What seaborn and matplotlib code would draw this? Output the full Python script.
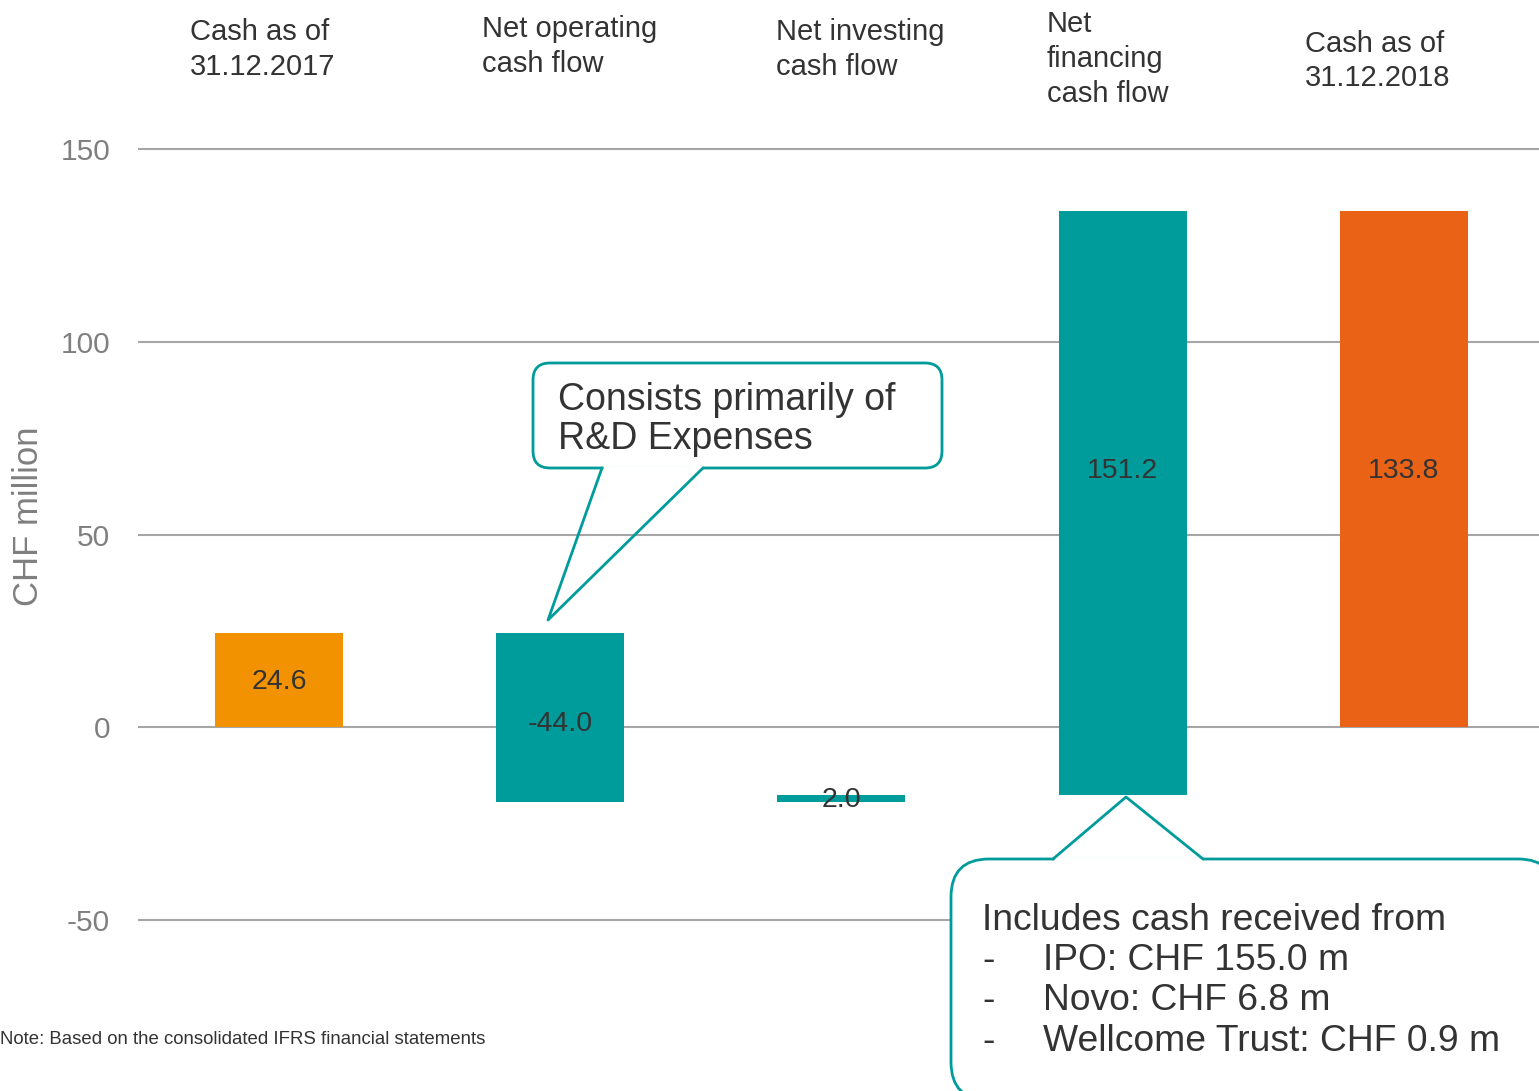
import numpy as np
import pandas as pd
import matplotlib
matplotlib.use("Agg")
import matplotlib.pyplot as plt
import matplotlib.transforms as mtransforms
from matplotlib.patches import FancyBboxPatch
import seaborn as sns

# data
categories = ["Cash 2017", "Operating", "Investing", "Financing", "Cash 2018"]
values = [24.6, -44.0, -2.0, 151.2, 133.8]
bar_bottoms = [0.0, 24.6, -19.4, -17.4, 0.0]
bar_tops = [24.6, -19.4, -17.4, 133.8, 133.8]
value_labels = ["24.6", "-44.0", "2.0", "151.2", "133.8"]
label_y = [11.7, 1.0, -18.9, 66.4, 66.4]
bar_colors = ["#F39200", "#009B9B", "#009B9B", "#009B9B", "#E96216"]
category_lines = [
    ["Cash as of", "31.12.2017"],
    ["Net operating", "cash flow"],
    ["Net investing", "cash flow"],
    ["Net", "financing", "cash flow"],
    ["Cash as of", "31.12.2018"],
]
yticks = [-50, 0, 50, 100, 150]

# layout (pixels, origin top-left)
W, H = 1539, 1091
cat_x = [190, 482, 776, 1047, 1305]
cat_baselines = [[40, 75], [37, 72], [40, 75], [32, 67, 102], [52, 86]]

TEAL = "#009B9B"
DARK = "#333333"
GREY = "#7F7F7F"

sns.set_theme(style="white")
plt.rcParams["font.family"] = ["Liberation Sans", "DejaVu Sans"]

fig = plt.figure(figsize=(W / 100, H / 100), dpi=100)
ax = fig.add_axes([138 / W, 0, 1 - 138 / W, 1])
px = mtransforms.Affine2D().scale(1, -1).translate(0, H)

df = pd.DataFrame({
    "category": categories,
    "height": np.array(bar_tops) - np.array(bar_bottoms),
    "bottom": bar_bottoms,
})
sns.barplot(data=df, x="category", y="height", bottom=df["bottom"].values,
            width=0.455, errorbar=None, linewidth=0, color=TEAL,
            saturation=1, ax=ax)
for patch, c in zip(ax.patches, bar_colors):
    patch.set_facecolor(c)
    patch.set_edgecolor(c)

for i, (txt, y) in enumerate(zip(value_labels, label_y)):
    ax.text(i, y, txt, ha="center", va="center", fontsize=20.5, color=DARK, zorder=3)

ax.set_xlim(-0.501, 4.48)
ax.set_ylim(-94.2, 188.5)
ax.set_xticks([])
ax.set_xlabel("")
ax.set_ylabel("")
ax.set_yticks(yticks)
ax.set_yticklabels([str(v) for v in yticks])
ax.tick_params(axis="y", length=0, pad=20, labelsize=21.5, labelcolor=GREY)
ax.yaxis.grid(True, color="#A6A6A6", linewidth=1.5)
ax.set_axisbelow(True)
sns.despine(ax=ax, left=True, bottom=True)

# category headers
for x, lines, bls in zip(cat_x, category_lines, cat_baselines):
    for line, b in zip(lines, bls):
        ax.text(x, b, line, transform=px, ha="left", va="baseline",
                fontsize=21, color=DARK)

ax.text(29, 516, "CHF million", transform=px, rotation=90, ha="center",
        va="center", fontsize=25, color=GREY)
ax.text(0, 1044, "Note: Based on the consolidated IFRS financial statements",
        transform=px, ha="left", va="baseline", fontsize=13.4, color=DARK)


def callout(box, base, tip, radius):
    x0, y0, x1, y1 = box
    ax.add_patch(FancyBboxPatch((x0, y0), x1 - x0, y1 - y0,
                                boxstyle=f"round,pad=0,rounding_size={radius}",
                                fc="white", ec=TEAL, lw=2, transform=px,
                                zorder=4, clip_on=False))
    bx0, bx1, by = base
    ax.plot([bx0 + 1, bx1 - 1], [by, by], color="white", lw=3.5,
            transform=px, zorder=5, solid_capstyle="butt", clip_on=False)
    ax.plot([bx0, tip[0], bx1], [by, tip[1], by], color=TEAL, lw=2,
            transform=px, zorder=6, clip_on=False)


callout((533, 363, 942, 468), (602, 703, 468), (548, 620), 17)
for line, b in zip(["Consists primarily of", "R&D Expenses"], [410, 449]):
    ax.text(558, b, line, transform=px, ha="left", va="baseline",
            fontsize=27, color=DARK, zorder=7)

callout((951, 859, 1556, 1100), (1053, 1203, 859), (1126, 797), 38)
ax.text(982, 930, "Includes cash received from", transform=px, ha="left",
        va="baseline", fontsize=26.8, color=DARK, zorder=7)
for item, b in zip(["IPO: CHF 155.0 m", "Novo: CHF 6.8 m", "Wellcome Trust: CHF 0.9 m"],
                   [970, 1010, 1051]):
    ax.text(982, b, "-", transform=px, ha="left", va="baseline",
            fontsize=26.8, color=DARK, zorder=7)
    ax.text(1043, b, item, transform=px, ha="left", va="baseline",
            fontsize=26.8, color=DARK, zorder=7)

fig.savefig("out.png", dpi=100)
